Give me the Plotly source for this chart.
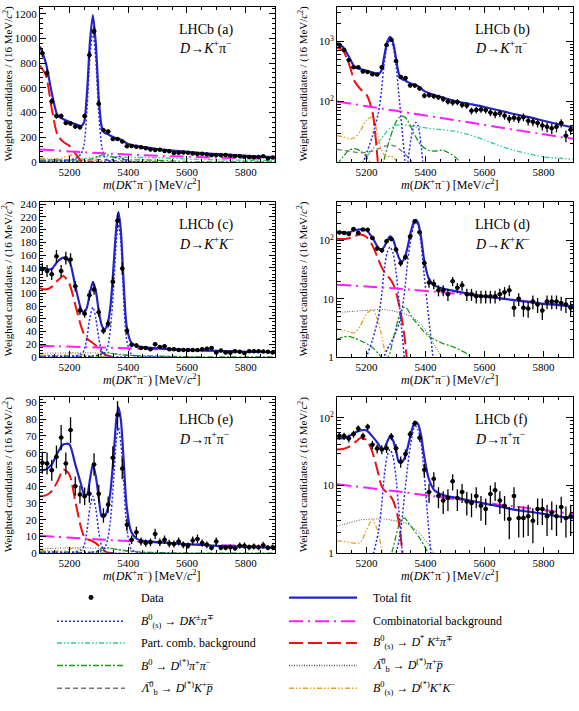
import plotly.graph_objects as go

W, H = 579, 711
FONT = "Liberation Serif"

# ---------------- data ----------------
BINS = [5108, 5124, 5140, 5156, 5172, 5188, 5204, 5220, 5236, 5252, 5268, 5284, 5300, 5316, 5332,
        5348, 5364, 5380, 5396, 5412, 5428, 5444, 5460, 5476, 5492, 5508, 5524, 5540, 5556, 5572,
        5588, 5604, 5620, 5636, 5652, 5668, 5684, 5700, 5716, 5732, 5748, 5764, 5780, 5796, 5812,
        5828, 5844, 5860, 5876, 5892]

DATA_KPI = [880, 720, 490, 370, 370, 315, 310, 285, 280, 370, 865, 1060, 470, 255, 245, 185, 185, 165,
            125, 128, 122, 118, 110, 100, 96, 98, 88, 86, 70, 72, 74, 72, 66, 62, 64, 58, 52, 54, 52, 55,
            48, 46, 44, 40, 38, 36, 38, 44, 27, 34]
ERR_KPI = [33, 30, 24, 21, 21, 20, 19, 19, 18, 21, 32, 36, 24, 18, 17, 15, 15, 14, 12, 12, 12, 12, 12, 11,
           11, 11, 10, 10, 9, 9, 9, 9, 9, 9, 9, 8, 8, 8, 8, 8, 8, 7, 7, 7, 7, 7, 7, 7, 6, 6]

DATA_KK = [138, 135, 130, 158, 135, 155, 153, 111, 73, 68, 97, 106, 70, 41, 52, 118, 214, 139, 41, 19,
           18, 14, 14, 12, 20, 15.5, 17, 12, 12, 11, 11, 11, 11, 11, 12, 13, 14, 7, 10, 7, 6.8, 9, 8, 6.3,
           9, 9, 9, 8.5, 8, 7]
ERR_KK = [9.4, 9.3, 9.1, 10, 9.3, 10, 9.9, 8.4, 6.8, 6.6, 7.9, 8.2, 6.7, 5.1, 5.8, 8.7, 11.7, 9.4, 5.1,
          3.5, 3.4, 3, 3, 2.8, 3.6, 3.1, 3.3, 2.8, 2.8, 2.7, 2.7, 2.7, 2.7, 2.7, 2.8, 2.9, 3, 2.1, 2.5,
          2.1, 2.1, 2.4, 2.3, 2, 2.4, 2.4, 2.4, 2.3, 2.3, 2.1]

DATA_PIPI = [54, 53.5, 49.5, 57.5, 69, 53.5, 73.5, 40, 35, 34, 35.5, 53, 35.5, 22.5, 29, 57, 82.5, 50.5,
             17, 8, 12.5, 7, 6, 6.5, 11.5, 6.5, 8, 5.8, 5.5, 7, 5, 4.5, 7.5, 8.5, 6, 5, 3.2, 7, 3.3, 3.3,
             3.5, 3, 4.5, 4.5, 3.5, 4, 3.5, 4.8, 3.3, 3.5]
ERR_PIPI = [6.6, 6.6, 6.3, 6.8, 7.5, 6.6, 7.7, 5.7, 5.3, 5.2, 5.4, 6.6, 5.4, 4.3, 4.8, 6.8, 8.2, 6.4, 3.7,
            2.5, 3.2, 2.4, 2.2, 2.3, 3.1, 2.3, 2.5, 2.2, 2.1, 2.4, 2, 1.9, 2.5, 2.6, 2.2, 2, 1.6, 2.4, 1.6,
            1.6, 1.7, 1.6, 1.9, 1.9, 1.7, 1.8, 1.7, 2, 1.6, 1.7]

# fit-curve sampling points (MeV/c^2)
XC = [5100, 5120, 5140, 5160, 5180, 5200, 5220, 5240, 5250, 5260, 5270, 5280, 5290, 5300, 5310, 5320,
      5330, 5340, 5350, 5360, 5367, 5375, 5385, 5395, 5410, 5430, 5460, 5500, 5550, 5600, 5650, 5700,
      5750, 5800, 5850, 5900]
X_COMB = [5100, 5300, 5500, 5700, 5900]

# ---- D -> K+ pi- ----
TOTAL_KPI = [935, 800, 560, 375, 345, 325, 305, 290, 320, 560, 970, 1190, 960, 520, 285, 235, 225, 210,
             200, 190, 185, 180, 165, 150, 138, 128, 116, 102, 91, 81, 71, 62, 55, 48, 42, 37]
B0_KPI = [0.85, 1.4, 2.1, 3.7, 7.4, 13.8, 26.5, 64, 138, 424, 848, 1060, 827, 403, 127, 37, 10.6, 3.2,
          0.85, 0.21, 0.11, 0.05, 0.02, 0.01, 0.005, 0.002, 0.001]
BS_KPI = [0.018, 0.023, 0.032, 0.045, 0.059, 0.081, 0.11, 0.16, 0.18, 0.23, 0.29, 0.36, 0.45, 0.59, 0.81,
          1.35, 3.15, 9.9, 22.5, 39.6, 45, 39.6, 18.9, 5.85, 1.13, 0.135, 0.009, 0.001]
COMB_KPI = [100, 70, 49, 34, 24]
RED_KPI = [780, 700, 430, 215, 160, 130, 68, 8, 1.5, 0.3, 0.05, 0.01]
TEAL_KPI = [2, 3, 4.5, 6.5, 9, 12, 16, 21, 24, 28, 32, 36, 38, 40, 41, 41, 41, 40, 39, 38.5, 38, 38, 37.5,
            37, 36, 35, 34, 32, 28, 23, 18.5, 15.5, 13.5, 12, 11.5, 11]
GREENA_KPI = [9, 12, 15.5, 16.5, 15, 12, 8, 4.5, 3, 2, 1, 0.4, 0.1, 0.03, 0.01]
GREENB_KPI = [0.1, 0.1, 0.1, 0.1, 0.2, 0.5, 1.5, 4, 6.5, 11, 17, 25, 35, 46, 54, 57, 55, 48, 38, 30, 26,
              22, 19, 17, 15.5, 15, 15.5, 12, 6, 2, 0.5, 0.1, 0.1, 0.1, 0.1, 0.1]
GRAYDASH_KPI = [16, 15.5, 15, 14.5, 14, 14.5, 15, 16.5, 17, 18, 18.5, 19, 18.5, 18, 16.5, 15, 13.5, 12,
                10.5, 9, 8, 7, 5.8, 4.5, 3, 1.5, 0.5, 0.1, 0.05]
ORANGE_KPI = [27, 26, 24, 25, 33, 50, 55, 25, 16, 13, 12, 12.5, 12, 10.5, 8, 5, 3, 1.5, 0.7, 0.3, 0.2,
              0.1, 0.05, 0.05]

# ---- D -> K+ K- ----
TOTAL_KK = [141, 138, 138, 150, 156, 150, 112, 75, 70, 78, 100, 118, 104, 72, 50, 43, 52, 80, 140, 205,
            228, 200, 115, 48, 23, 17, 15, 13.5, 12.2, 11, 10.2, 9.5, 8.8, 8.2, 7.8, 7.4]
B0_KK = [0.06, 0.1, 0.16, 0.27, 0.55, 1.0, 1.95, 4.7, 10.1, 31.2, 62.4, 78, 60.8, 29.6, 9.4, 2.7, 0.78,
         0.23, 0.06, 0.016, 0.008, 0.004, 0.0016, 0.0008]
BS_KK = [0.083, 0.104, 0.146, 0.208, 0.27, 0.374, 0.52, 0.73, 0.83, 1.04, 1.35, 1.66, 2.08, 2.7, 3.74,
         6.24, 14.6, 45.8, 104, 183, 208, 183, 87.4, 27, 5.2, 0.62, 0.042, 0.004, 0.0002]
COMB_KK = [17.5, 15, 12.3, 9.6, 7.5]
RED_KK = [108, 106, 110, 120, 127, 115, 82, 48, 36, 29, 25, 22, 18, 13, 8, 4.5, 2, 0.6, 0.15, 0.03, 0.01]
GRAYDOT_KK = [5.8, 5.9, 6, 6.1, 6.2, 6.3, 6.4, 6.5, 6.5, 6.5, 6.4, 6.3, 6.2, 6, 5.8, 5.7, 5.5, 5.2, 5,
              4.7, 4.4, 4.1, 3.6, 3.1, 2.4, 1.6, 0.9, 0.4, 0.1, 0.03, 0.01]
ORANGE_KK = [3, 2.9, 2.7, 2.6, 3.5, 5.5, 6.5, 4, 2.5, 1.4, 0.9, 0.5, 0.25, 0.1, 0.05, 0.02]
GREENA_KK = [2, 2.2, 2.25, 2.1, 1.9, 1.7, 1.45, 1.15, 1.0, 0.8, 0.6, 0.4, 0.25, 0.1, 0.05, 0.02]
GREENB_KK = [0.1, 0.1, 0.1, 0.1, 0.1, 0.1, 0.1, 0.1, 0.3, 0.6, 0.9, 1.2, 2, 3.2, 5, 6.6, 7.2, 6.5, 5.2,
             4.4, 4, 3.6, 3.1, 2.7, 2.3, 2, 1.7, 1.45, 1.05, 0.5, 0.2, 0.05, 0.05, 0.05, 0.05, 0.05]

# ---- D -> pi+ pi- ----
TOTAL_PIPI = [49.5, 50, 53, 60, 65, 65, 53, 41, 35, 35, 44, 53, 46, 33, 22, 22, 26, 37, 57, 80, 87, 80,
              55, 28, 13, 8.5, 7.2, 6.6, 6, 5.4, 4.9, 4.4, 4.1, 3.8, 3.5, 3.3]
B0_PIPI = [0.027, 0.044, 0.068, 0.12, 0.24, 0.44, 0.85, 2.04, 4.42, 13.6, 27.2, 34, 26.5, 12.9, 4.08,
           1.19, 0.34, 0.1, 0.027, 0.007, 0.0034, 0.0017, 0.0007, 0.0003]
BS_PIPI = [0.03, 0.04, 0.05, 0.075, 0.1, 0.135, 0.19, 0.26, 0.3, 0.375, 0.49, 0.6, 0.75, 1.0, 1.5, 3, 8,
           20, 42, 68, 75, 66, 42, 16, 2.5, 0.3, 0.02, 0.002, 0.0002]
COMB_PIPI = [10.4, 8.2, 6.3, 4.9, 3.8]
RED_PIPI = [34, 34.5, 37, 43, 50, 47, 31, 15, 10, 8.5, 7.8, 7, 6, 4.5, 2.8, 1.2, 0.4, 0.1, 0.02]
GRAYDOT_PIPI = [2.5, 2.65, 2.8, 2.95, 3.1, 3.15, 3.2, 3.2, 3.2, 3.2, 3.15, 3.1, 3.05, 3.0, 2.95, 2.9, 2.8,
                2.7, 2.55, 2.35, 2.2, 2.05, 1.85, 1.65, 1.35, 0.95, 0.45, 0.15, 0.05, 0.02, 0.01]
ORANGE_PIPI = [1.5, 1.5, 1.45, 1.4, 1.45, 2.2, 3.1, 2, 1.2, 0.8, 0.5, 0.3, 0.15, 0.07, 0.03]
GREENA_PIPI = [0.8, 0.85, 0.9, 0.88, 0.8, 0.72, 0.6, 0.45, 0.38, 0.3, 0.22, 0.15, 0.1, 0.06, 0.03, 0.02]
GREENB_PIPI = [0.1, 0.1, 0.1, 0.1, 0.1, 0.1, 0.1, 0.12, 0.2, 0.3, 0.5, 0.8, 1.2, 1.8, 2.6, 3.2, 3.3, 2.9,
               2.5, 2.2, 2, 1.8, 1.55, 1.3, 1, 0.75, 0.55, 0.4, 0.2, 0.1, 0.03, 0.03, 0.03, 0.03, 0.03, 0.03]

X_TICKS = [5200, 5400, 5600, 5800]

# ---------------- styles ----------------
STY = {
    'total': dict(color='#2323c8', width=2.2, dash='solid'),
    'sig': dict(color='#2a2ae6', width=1.5, dash='2px,2px'),
    'comb': dict(color='#ff1cff', width=2, dash='14px,5px,2px,5px'),
    'teal': dict(color='#33cc99', width=1.3, dash='5px,2px,1.5px,2px,1.5px,2px'),
    'red': dict(color='#ee1111', width=2, dash='14px,5px'),
    'green': dict(color='#1a9a1a', width=1.3, dash='6px,2px,2px,2px'),
    'graydot': dict(color='#555555', width=1, dash='1px,1.5px'),
    'graydash': dict(color='#777777', width=1.3, dash='5px,3px'),
    'orange': dict(color='#f0a020', width=1.3, dash='5px,2px,1.5px,2px,1.5px,2px'),
}

ROWS = [
    dict(data=DATA_KPI, err=ERR_KPI, total=TOTAL_KPI, comb=COMB_KPI,
         comps=[('teal', TEAL_KPI), ('green', GREENA_KPI), ('green', GREENB_KPI), ('graydash', GRAYDASH_KPI),
                ('orange', ORANGE_KPI), ('red', RED_KPI), ('sig', B0_KPI), ('sig', BS_KPI)],
         lin=dict(range=[0, 1255], dtick=200, minor=40),
         log=dict(range=[1.0, 3.57], tickvals=[100, 1000], ticktext=['10<sup>2</sup>', '10<sup>3</sup>'],
                  minor=[20, 30, 40, 50, 60, 70, 80, 90, 200, 300, 400, 500, 600, 700, 800, 900, 2000, 3000]),
         tags=('a', 'b'), mode='<i>D</i>→<i>K</i><sup>+</sup>π<sup>−</sup>'),
    dict(data=DATA_KK, err=ERR_KK, total=TOTAL_KK, comb=COMB_KK,
         comps=[('graydot', GRAYDOT_KK), ('green', GREENA_KK), ('green', GREENB_KK), ('orange', ORANGE_KK),
                ('red', RED_KK), ('sig', B0_KK), ('sig', BS_KK)],
         lin=dict(range=[0, 243], dtick=20, minor=5),
         log=dict(range=[0, 2.66], tickvals=[1, 10, 100], ticktext=['1', '10', '10<sup>2</sup>'],
                  minor=[2, 3, 4, 5, 6, 7, 8, 9, 20, 30, 40, 50, 60, 70, 80, 90, 200, 300, 400]),
         tags=('c', 'd'), mode='<i>D</i>→<i>K</i><sup>+</sup><i>K</i><sup>−</sup>'),
    dict(data=DATA_PIPI, err=ERR_PIPI, total=TOTAL_PIPI, comb=COMB_PIPI,
         comps=[('graydot', GRAYDOT_PIPI), ('green', GREENA_PIPI), ('green', GREENB_PIPI),
                ('orange', ORANGE_PIPI), ('red', RED_PIPI), ('sig', B0_PIPI), ('sig', BS_PIPI)],
         lin=dict(range=[0, 93], dtick=10, minor=2),
         log=dict(range=[0, 2.3], tickvals=[1, 10, 100], ticktext=['1', '10', '10<sup>2</sup>'],
                  minor=[2, 3, 4, 5, 6, 7, 8, 9, 20, 30, 40, 50, 60, 70, 80, 90, 200]),
         tags=('e', 'f'), mode='<i>D</i>→π<sup>+</sup>π<sup>−</sup>'),
]

# ---------------- layout geometry (pixels) ----------------
COL_X = [(40, 275), (337, 573)]
ROW_Y = [(3, 160), (201, 358), (399, 557)]


def fx(p):
    return p / W


def fy(p):
    return 1 - p / H


fig = go.Figure()
layout = dict(width=W, height=H, margin=dict(l=0, r=0, t=0, b=0), paper_bgcolor='white',
              plot_bgcolor='white', showlegend=False, font=dict(family=FONT, color='black'))
annotations = []
shapes = []

ax_common = dict(ticks='inside', tickcolor='black', tickwidth=1, showline=True, linecolor='black',
                 linewidth=1, mirror='ticks', showgrid=False, zeroline=False,
                 tickfont=dict(family=FONT, size=11, color='black'))

n = 0
for r, row in enumerate(ROWS):
    y0, y1 = ROW_Y[r]
    for c in range(2):
        n += 1
        xa = 'x' if n == 1 else f'x{n}'
        ya = 'y' if n == 1 else f'y{n}'
        x0, x1 = COL_X[c]
        xaxis = dict(ax_common, domain=[fx(x0), fx(x1)], anchor=ya, range=[5100, 5900], tickvals=X_TICKS,
                     ticklen=6,
                     minor=dict(ticks='inside', dtick=50, tick0=5100, ticklen=3, tickcolor='black',
                                showgrid=False))
        if c == 0:
            lin = row['lin']
            yaxis = dict(ax_common, domain=[fy(y1), fy(y0)], anchor=xa, range=lin['range'], dtick=lin['dtick'],
                         tick0=0, ticklen=6,
                         minor=dict(ticks='inside', dtick=lin['minor'], tick0=0, ticklen=3, tickcolor='black',
                                    showgrid=False))
        else:
            lg = row['log']
            yaxis = dict(ax_common, domain=[fy(y1), fy(y0)], anchor=xa, type='log', range=lg['range'],
                         tickmode='array', tickvals=lg['tickvals'], ticktext=lg['ticktext'], ticklen=7,
                         minor=dict(ticks='inside', tickmode='array', tickvals=lg['minor'], ticklen=3.5,
                                    tickcolor='black', showgrid=False))
        layout['xaxis' if n == 1 else f'xaxis{n}'] = xaxis
        layout['yaxis' if n == 1 else f'yaxis{n}'] = yaxis

        # components
        for key, vals in row['comps']:
            fig.add_trace(go.Scatter(x=XC[:len(vals)], y=vals, mode='lines', xaxis=xa, yaxis=ya,
                                     line=dict(STY[key], shape='spline', smoothing=0.7), hoverinfo='skip',
                                     cliponaxis=True))
        fig.add_trace(go.Scatter(x=X_COMB, y=row['comb'], mode='lines', xaxis=xa, yaxis=ya,
                                 line=dict(STY['comb'], shape='spline', smoothing=0.8), hoverinfo='skip'))
        fig.add_trace(go.Scatter(x=XC, y=row['total'], mode='lines', xaxis=xa, yaxis=ya,
                                 line=dict(STY['total'], shape='spline', smoothing=0.7), hoverinfo='skip'))
        fig.add_trace(go.Scatter(x=BINS, y=row['data'], mode='markers', xaxis=xa, yaxis=ya,
                                 marker=dict(color='black', size=4.5),
                                 error_y=dict(type='data', array=row['err'], width=0, thickness=1.3, color='black'),
                                 error_x=dict(type='constant', value=8, width=0, thickness=1.3, color='black'),
                                 hoverinfo='skip'))

        # labels
        tx = 177 if c == 0 else 473
        annotations.append(dict(x=fx(tx), y=fy(y0 + 23), xref='paper', yref='paper', xanchor='left',
                                yanchor='middle', showarrow=False, text=f'LHCb ({row["tags"][c]})',
                                font=dict(family=FONT, size=14, color='black')))
        annotations.append(dict(x=fx(tx), y=fy(y0 + 41), xref='paper', yref='paper', xanchor='left',
                                yanchor='middle', showarrow=False, text=row['mode'],
                                font=dict(family=FONT, size=14, color='black')))
        # x title
        annotations.append(dict(x=fx((x0 + x1) / 2 - 6), y=fy(y1 + 23), xref='paper', yref='paper',
                                xanchor='center', yanchor='middle', showarrow=False,
                                text='<i>m</i>(<i>DK</i><sup>+</sup>π<sup>−</sup>) [MeV/<i>c</i><sup>2</sup>]',
                                font=dict(family=FONT, size=12, color='black')))
        # y title
        annotations.append(dict(x=fx(8 if c == 0 else 303), y=fy((y0 + y1) / 2), xref='paper', yref='paper',
                                xanchor='center', yanchor='middle', showarrow=False, textangle=-90,
                                text='Weighted candidates / (16 MeV/<i>c</i><sup>2</sup>)',
                                font=dict(family=FONT, size=11, color='black')))

# ---------------- legend ----------------
LEG_ROWS = [602, 626, 648, 671, 694]
LEG_LEFT = [('data', 'Data'),
            ('sig', '<i>B</i><sup>0</sup><sub>(s)</sub> → <i>DK</i><sup>±</sup><i>π</i><sup>∓</sup>'),
            ('teal', 'Part. comb. background'),
            ('green', '<i>B</i><sup>0</sup> → <i>D</i><sup>(*)</sup><i>π</i><sup>+</sup><i>π</i><sup>−</sup>'),
            ('graydash', '<i>\u039b\u0305</i><sup>0</sup><sub>b</sub> → <i>D</i><sup>(*)</sup><i>K</i><sup>+</sup><i>p\u0305</i>')]
LEG_RIGHT = [('total', 'Total fit'),
             ('comb', 'Combinatorial background'),
             ('red', '<i>B</i><sup>0</sup><sub>(s)</sub> → <i>D</i><sup>*</sup> <i>K</i><sup>±</sup><i>π</i><sup>∓</sup>'),
             ('graydot', '<i>\u039b\u0305</i><sup>0</sup><sub>b</sub> → <i>D</i><sup>(*)</sup><i>π</i><sup>+</sup><i>p\u0305</i>'),
             ('orange', '<i>B</i><sup>0</sup><sub>(s)</sub> → <i>D</i><sup>(*)</sup><i>K</i><sup>+</sup><i>K</i><sup>−</sup>')]

for items, (lx0, lx1, tx) in ((LEG_LEFT, (57, 125, 139)), (LEG_RIGHT, (289, 357, 371))):
    for (key, label), yy in zip(items, LEG_ROWS):
        if key == 'data':
            cx = (lx0 + lx1) / 2
            shapes.append(dict(type='circle', xref='paper', yref='paper', x0=fx(cx - 2.5), x1=fx(cx + 2.5),
                               y0=fy(yy + 2.5), y1=fy(yy - 2.5), fillcolor='black', line=dict(width=0)))
        else:
            st = STY[key]
            shapes.append(dict(type='line', xref='paper', yref='paper', x0=fx(lx0), x1=fx(lx1), y0=fy(yy),
                               y1=fy(yy), line=dict(color=st['color'], width=max(st['width'], 1.5),
                                                    dash=st['dash'])))
        annotations.append(dict(x=fx(tx), y=fy(yy), xref='paper', yref='paper', xanchor='left',
                                yanchor='middle', showarrow=False, text=label,
                                font=dict(family=FONT, size=12, color='black')))

layout['annotations'] = annotations
layout['shapes'] = shapes
fig.update_layout(**layout)

fig.write_html("out.html", config={'displayModeBar': False},
               post_script="document.body.style.margin='0';")
